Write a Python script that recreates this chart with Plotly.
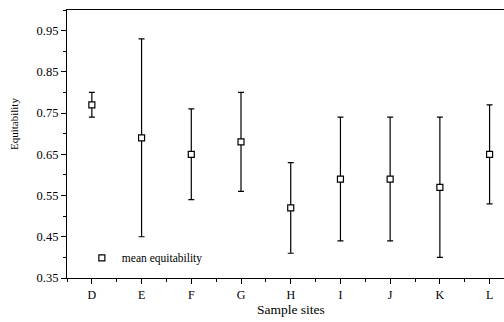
import plotly.graph_objects as go

sites = ["D", "E", "F", "G", "H", "I", "J", "K", "L"]
mean_eq = [0.77, 0.69, 0.65, 0.68, 0.52, 0.59, 0.59, 0.57, 0.65]
upper = [0.80, 0.93, 0.76, 0.80, 0.63, 0.74, 0.74, 0.74, 0.77]
lower = [0.74, 0.45, 0.54, 0.56, 0.41, 0.44, 0.44, 0.40, 0.53]
y_ticks = [0.35, 0.45, 0.55, 0.65, 0.75, 0.85, 0.95]

xpos = list(range(len(sites)))
err_plus = [u - m for u, m in zip(upper, mean_eq)]
err_minus = [m - l for m, l in zip(mean_eq, lower)]

font = "Liberation Serif, Times New Roman, serif"

fig = go.Figure()
fig.add_trace(go.Scatter(
    x=xpos, y=mean_eq, mode="markers", name="mean equitability",
    marker=dict(symbol="square", size=6, color="white",
                line=dict(color="black", width=1.2)),
    error_y=dict(type="data", symmetric=False, array=err_plus,
                 arrayminus=err_minus, color="black", thickness=1.2, width=3),
))

fig.update_layout(
    width=504, height=322,
    margin=dict(l=67, r=0, t=10, b=44),
    paper_bgcolor="white", plot_bgcolor="white",
    font=dict(family=font, size=12, color="black"),
    showlegend=True,
    legend=dict(x=0.034, y=0.075, xanchor="left", yanchor="middle",
                bgcolor="rgba(0,0,0,0)", font=dict(size=11.5, family=font),
                itemwidth=30),
    xaxis=dict(
        range=[-0.5, 8.29], tickmode="array", tickvals=xpos, ticktext=sites,
        showgrid=False, zeroline=False, showline=True, linecolor="black",
        linewidth=1.2, mirror=True, ticks="outside", ticklen=5,
        tickcolor="black", tickfont=dict(size=12),
        minor=dict(tick0=0.5, dtick=1, ticks="outside", ticklen=3,
                   tickcolor="black"),
    ),
    yaxis=dict(
        range=[0.35, 1.0], tickmode="array", tickvals=y_ticks,
        ticktext=[f"{v:.2f}" for v in y_ticks],
        showgrid=False, zeroline=False, showline=True, linecolor="black",
        linewidth=1.2, ticks="outside", ticklen=5, tickcolor="black",
        tickfont=dict(size=12.5),
        minor=dict(tick0=0.40, dtick=0.1, ticks="outside", ticklen=3,
                   tickcolor="black"),
    ),
    annotations=[
        dict(text="Sample sites", xref="paper", yref="paper", x=0.513,
             y=-0.118, xanchor="center", yanchor="middle", showarrow=False,
             font=dict(size=13.5, family=font)),
        dict(text="Equitability", xref="paper", yref="paper", x=-0.121,
             y=0.575, xanchor="center", yanchor="middle", showarrow=False,
             textangle=-90, font=dict(size=11, family=font)),
    ],
)

fig.write_html("out.html")
